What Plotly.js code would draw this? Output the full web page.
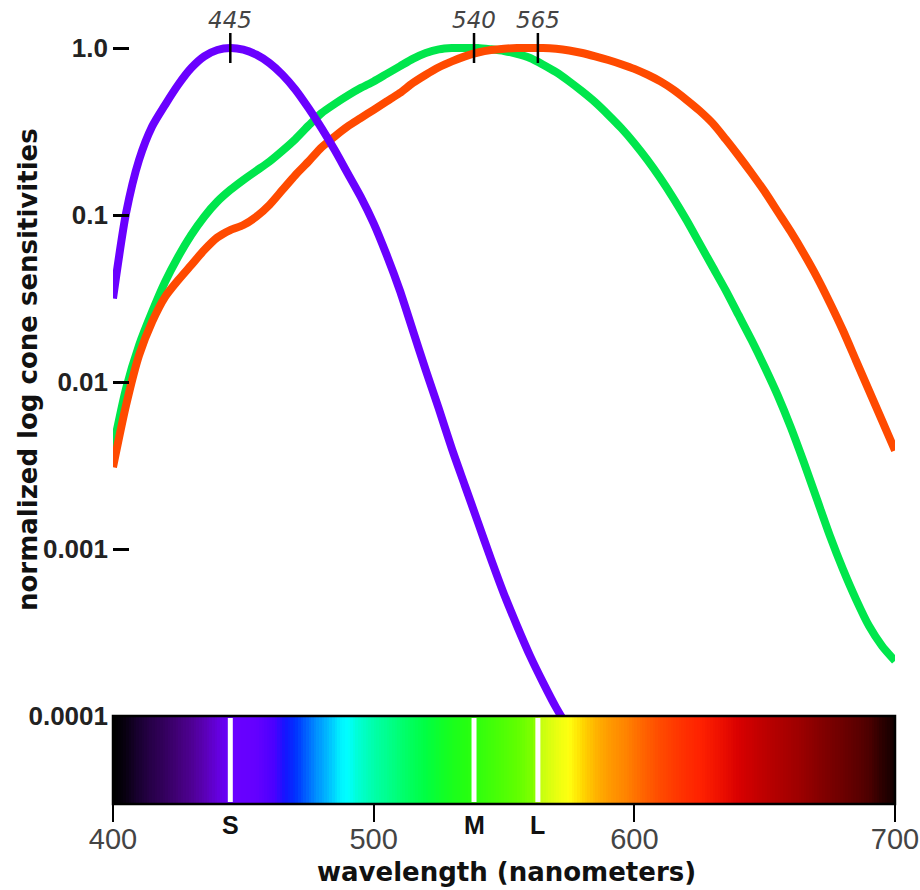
<!DOCTYPE html>
<html><head><meta charset="utf-8">
<script src="https://cdn.plot.ly/plotly-3.0.1.min.js"></script>
<style>html,body{margin:0;padding:0;background:#fff}#chart{width:920px;height:890px}</style>
</head><body><div id="chart"></div>
<script>
// ---- data ----
const wavelengths = [400,405,410,415,420,425,430,435,440,445,450,455,460,465,470,475,480,485,490,495,500,505,510,515,520,525,530,535,540,545,550,555,560,565,570,575,580,585,590,595,600,605,610,615,620,625,630,635,640,645,650,655,660,665,670,675,680,685,690,695,700];
// log10 of normalized sensitivity
const mConeLog10 = [-2.40,-2.04,-1.78,-1.58,-1.40,-1.25,-1.12,-1.01,-0.92,-0.85,-0.79,-0.735,-0.68,-0.615,-0.545,-0.465,-0.39,-0.335,-0.285,-0.24,-0.20,-0.155,-0.11,-0.065,-0.03,-0.008,0,0,0,-0.008,-0.018,-0.035,-0.06,-0.10,-0.145,-0.20,-0.26,-0.325,-0.40,-0.48,-0.57,-0.67,-0.78,-0.90,-1.03,-1.17,-1.31,-1.45,-1.60,-1.75,-1.91,-2.08,-2.27,-2.48,-2.70,-2.92,-3.12,-3.30,-3.46,-3.58,-3.67];
const lConeLog10 = [-2.51,-2.14,-1.84,-1.64,-1.49,-1.39,-1.30,-1.21,-1.135,-1.09,-1.06,-1.01,-0.94,-0.85,-0.76,-0.68,-0.595,-0.53,-0.47,-0.42,-0.37,-0.32,-0.27,-0.21,-0.16,-0.115,-0.08,-0.05,-0.027,-0.012,-0.004,0,0,0,-0.005,-0.015,-0.03,-0.05,-0.072,-0.097,-0.125,-0.16,-0.20,-0.25,-0.31,-0.375,-0.45,-0.545,-0.645,-0.75,-0.86,-0.98,-1.10,-1.23,-1.37,-1.525,-1.69,-1.87,-2.05,-2.23,-2.41];
const sWavelengths = [400,405,410,415,420,425,430,435,440,445,450,455,460,465,470,475,480,485,490,495,500,505,510,515,520,525,530,535,540,545,550,555,560,565,570,575];
const sConeLog10 = [-1.50,-0.99,-0.67,-0.47,-0.34,-0.22,-0.12,-0.05,-0.012,0,-0.01,-0.04,-0.09,-0.16,-0.25,-0.36,-0.48,-0.61,-0.75,-0.89,-1.05,-1.24,-1.45,-1.69,-1.93,-2.16,-2.40,-2.62,-2.84,-3.06,-3.27,-3.46,-3.64,-3.80,-3.95,-4.08];

const yTickVals = [0.0001,0.001,0.01,0.1,1];
const yTickText = ['0.0001','0.001','0.01','0.1','1.0'];
const xTickVals = [400,500,600,700];
const xTickText = ['400','500','600','700'];

const peakPositions = [445,538.5,563];
const peakLabels = ['445','540','565'];
const coneLetters = ['S','M','L'];

const spectrumStopsNm = [400,404,410,415,420,425,430,435,440,445,455,462,466,470,474,478,483,487,490,494,500,507,513,520,528,535,545,555,561,564,570,575,580,585,590,597,603,610,618,625,632,640,648,655,662,670,678,685,690,695,700];
const spectrumStopsColor = ['#000000','#06000c','#1a0032','#28004a','#34005e','#420078','#4e0092','#5a00b4','#6400dc','#6a00ff','#6400ff','#4a00ff','#1414ff','#0030ff','#0060ff','#0090ff','#00c0ff','#00f0ff','#00ffff','#00ffd4','#00ffaa','#00ff84','#00ff62','#00ff42','#14ff22','#24ff12','#40ff08','#60ff00','#80ff00','#c4ff10','#e8ff10','#ffff10','#ffd800','#ffb400','#ff9c00','#ff8200','#ff6600','#ff4a00','#ff3200','#ff2200','#f01200','#d80000','#c20000','#b00000','#a00000','#880000','#720000','#5e0000','#4c0000','#2c0000','#120000'];

const colS = '#6a00ff', colM = '#00e64c', colL = '#ff4a00';

// ---- geometry ----
const W = 920, H = 890;
const mL = 113, mR = 25, mT = 41, mB = 86;
const plotH = H - mT - mB;           // 763
const barFrac = 88 / plotH;          // spectrum strip height
const pxY = py => (H - mB - py) / plotH;   // pixel -> paper y
const pxX = px => (px - mL) / (W - mL - mR);

// ---- traces ----
const toVal = a => a.map(v => Math.pow(10, v));
const lineStyle = c => ({color: c, width: 8, shape: 'spline', smoothing: 0.7});
const traces = [
  {x: wavelengths, y: toVal(mConeLog10), type: 'scatter', mode: 'lines', name: 'M',
   line: lineStyle(colM), hoverinfo: 'skip', xaxis: 'x', yaxis: 'y'},
  {x: wavelengths, y: toVal(lConeLog10), type: 'scatter', mode: 'lines', name: 'L',
   line: lineStyle(colL), hoverinfo: 'skip', xaxis: 'x', yaxis: 'y'},
  {x: sWavelengths, y: toVal(sConeLog10), type: 'scatter', mode: 'lines', name: 'S',
   line: lineStyle(colS), hoverinfo: 'skip', xaxis: 'x', yaxis: 'y'}
];

// spectrum strip as a heatmap keyed by wavelength
const xEdges = [], zRow = [];
for (let w = 400; w <= 700; w++) xEdges.push(w);
for (let i = 0; i < xEdges.length - 1; i++) zRow.push(xEdges[i] + 0.5);
const colorscale = spectrumStopsNm.map((w, i) => [(w - 400) / 300, spectrumStopsColor[i]]);
traces.unshift({
  type: 'heatmap', x: xEdges, y: [0, 1], z: [zRow], zmin: 400, zmax: 700,
  colorscale: colorscale, showscale: false, hoverinfo: 'skip', xaxis: 'x', yaxis: 'y2'
});

// ---- shapes ----
const shapes = [];
shapes.push({type: 'line', xref: 'paper', yref: 'y', x0: 0, x1: 0, y0: -4, y1: 0, line: {color: '#000', width: 4}});
shapes.push({type: 'rect', xref: 'paper', yref: 'paper', x0: 0, x1: 1, y0: 0, y1: barFrac, line: {color: '#000', width: 2.5}, fillcolor: 'rgba(0,0,0,0)'});
peakPositions.forEach(p => {
  shapes.push({type: 'line', xref: 'x', yref: 'paper', x0: p, x1: p, y0: pxY(63), y1: pxY(33), line: {color: '#000', width: 2.5}});
  shapes.push({type: 'line', xref: 'x', yref: 'paper', x0: p, x1: p, y0: pxY(802), y1: pxY(718), line: {color: '#fff', width: 5}});
});

// ---- annotations ----
const annotations = [];
peakPositions.forEach((p, i) => {
  annotations.push({x: p, xref: 'x', y: pxY(20), yref: 'paper', text: peakLabels[i], showarrow: false,
    xanchor: 'center', yanchor: 'middle', font: {family: 'DejaVu Sans', size: 23, color: '#444', style: 'italic'}});
  annotations.push({x: p, xref: 'x', y: pxY(825), yref: 'paper', text: coneLetters[i], showarrow: false,
    xanchor: 'center', yanchor: 'middle', font: {family: 'Liberation Sans', size: 25, color: '#111', weight: 'bold'}});
});
annotations.push({x: pxX(506), xref: 'paper', y: pxY(872), yref: 'paper', text: 'wavelength (nanometers)', showarrow: false,
  xanchor: 'center', yanchor: 'middle', font: {family: 'DejaVu Sans', size: 26, color: '#111', weight: 'bold'}});
annotations.push({x: pxX(28), xref: 'paper', y: pxY(370), yref: 'paper', text: 'normalized log cone sensitivities', showarrow: false,
  textangle: -90, xanchor: 'center', yanchor: 'middle', font: {family: 'DejaVu Sans', size: 26, color: '#111', weight: 'bold'}});

const layout = {
  width: W, height: H, margin: {l: mL, r: mR, t: mT, b: mB, pad: 0},
  paper_bgcolor: '#fff', plot_bgcolor: 'rgba(0,0,0,0)', showlegend: false,
  xaxis: {range: [400, 700], anchor: 'y2', showgrid: false, zeroline: false, showline: false,
    tickmode: 'array', tickvals: xTickVals, ticktext: xTickText, ticks: 'outside', ticklen: 17, tickwidth: 2, tickcolor: '#000',
    ticklabelstandoff: -8,
    tickfont: {family: 'Liberation Sans', size: 29, color: '#444'}, fixedrange: true},
  yaxis: {type: 'log', domain: [barFrac, 1], range: [-4, 675 / 167 - 4], anchor: 'x', showgrid: false, zeroline: false, showline: false,
    tickmode: 'array', tickvals: yTickVals, ticktext: yTickText, ticks: 'inside', ticklen: 16, tickwidth: 3, tickcolor: '#000',
    ticklabelstandoff: 4,
    tickfont: {family: 'Liberation Sans', size: 26, color: '#222', weight: 'bold'}, fixedrange: true},
  yaxis2: {domain: [0, barFrac], range: [0, 1], anchor: 'x', visible: false, fixedrange: true},
  shapes: shapes, annotations: annotations
};

Plotly.newPlot('chart', traces, layout, {displayModeBar: false, staticPlot: true});
</script>
</body></html>
